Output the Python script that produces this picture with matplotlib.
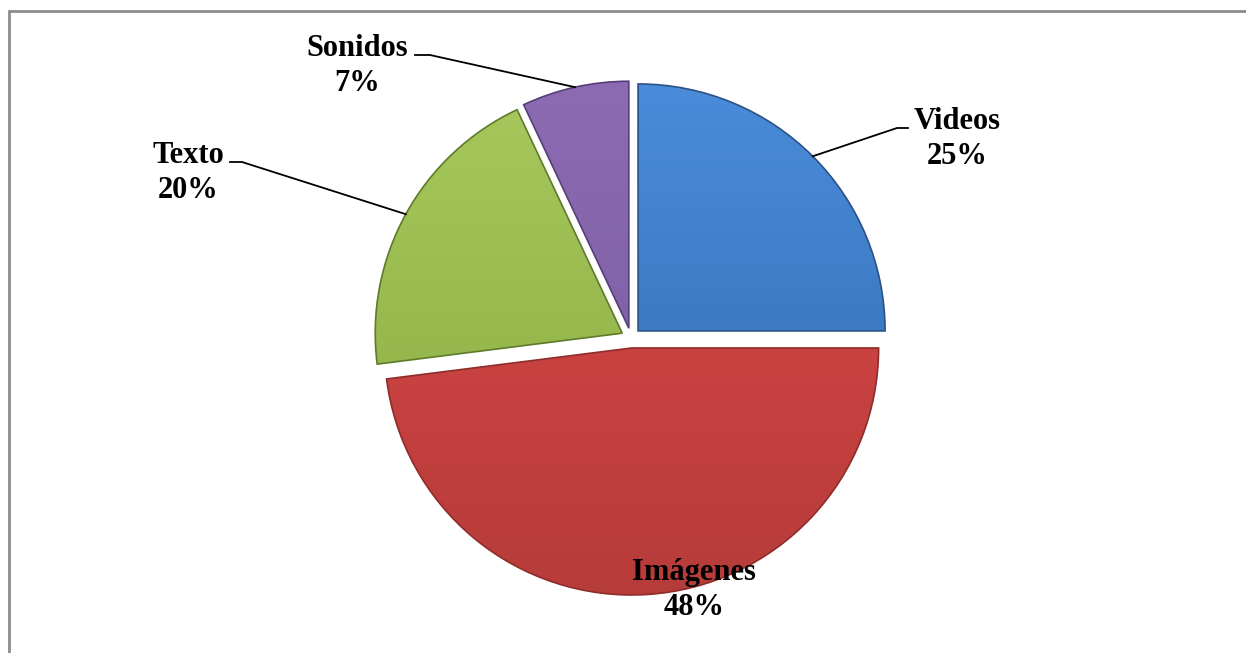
import numpy as np
import matplotlib
matplotlib.use('Agg')
import matplotlib.pyplot as plt
from matplotlib.colors import LinearSegmentedColormap
from matplotlib.patches import Rectangle

# data (clockwise from 12 o'clock)
categories = ['Videos', 'Imágenes', 'Texto', 'Sonidos']
values = [25, 48, 20, 7]

# styling
top_colors = ['#4A8CDA', '#DC4846', '#A7C85C', '#8D6BB3']
bot_colors = ['#3068AC', '#B63C3A', '#89AA40', '#75589D']
edge_colors = ['#2A5288', '#8E2D2B', '#5F7A2A', '#563F78']

W, H = 1246, 653
plt.rcParams.update({
    'font.family': 'serif',
    'font.serif': ['Liberation Serif', 'DejaVu Serif'],
    'font.weight': 'bold',
    'font.size': 22,
})

fig = plt.figure(figsize=(W / 100, H / 100), dpi=100)
ax = fig.add_axes([0, 0, 1, 1])

# work in pixel-like units, y up
cx, cy, r = 631, H - 338, 247
wedges, _ = ax.pie(values, startangle=90, counterclock=False,
                   explode=[10] * len(values), radius=r, center=(cx, cy),
                   wedgeprops=dict(linewidth=1.2))

for w, ct, cb, ce in zip(wedges, top_colors, bot_colors, edge_colors):
    w.set_facecolor('none')
    w.set_edgecolor(ce)
    w.set_zorder(3)
    cmap = LinearSegmentedColormap.from_list('g', [ct, cb])
    x0, y0 = w.center
    grad = np.linspace(0, 1, 256).reshape(-1, 1)
    im = ax.imshow(grad, cmap=cmap, extent=[x0 - r, x0 + r, y0 - r, y0 + r],
                   origin='upper', aspect='auto', zorder=2, interpolation='bilinear')
    im.set_clip_path(w)

# label positions (pixels, top-left origin) and leader elbows
label_pos = {'Videos': (957, 139), 'Imágenes': (694, 590),
             'Texto': (188, 173), 'Sonidos': (357, 66)}
leader = {'Videos': [(897, 128), (908, 128)],
          'Texto': [(242, 162), (230, 162)],
          'Sonidos': [(430, 55), (415, 55)]}

for w, cat, val in zip(wedges, categories, values):
    px, py = label_pos[cat]
    ax.text(px, H - py, f'{cat}\n{val}%', ha='center', va='center',
            fontsize=22, fontweight='bold', linespacing=1.25, zorder=5)
    if cat in leader:
        thm = np.deg2rad((w.theta1 + w.theta2) / 2)
        ax_ = w.center[0] + w.r * np.cos(thm)
        ay_ = w.center[1] + w.r * np.sin(thm)
        xs = [ax_] + [p[0] for p in leader[cat]]
        ys = [ay_] + [H - p[1] for p in leader[cat]]
        ax.plot(xs, ys, color='black', linewidth=1.3, zorder=4)

# outer frame (only left and top visible)
ax.add_patch(Rectangle((8.5, -20), W + 40, H - 10.5 + 20, fill=False,
                       edgecolor='#8C8C8C', linewidth=2, zorder=6, clip_on=False))

ax.set_xlim(0, W)
ax.set_ylim(0, H)
ax.set_aspect('equal')
ax.axis('off')

fig.savefig('out.png', dpi=100)
